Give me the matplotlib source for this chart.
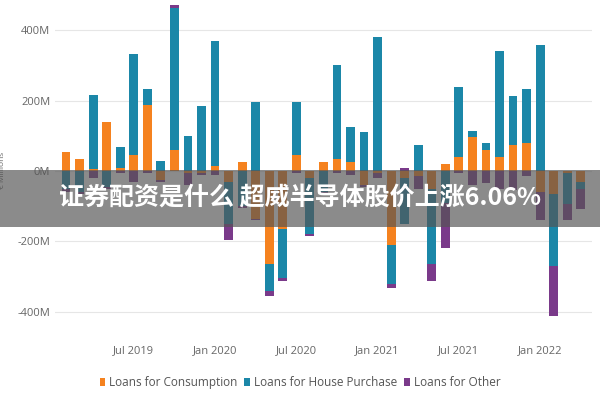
import matplotlib
matplotlib.use("Agg")

import matplotlib.pyplot as plt
import numpy as np
from matplotlib.patches import Rectangle

# monthly data, Feb 2019 .. Apr 2022 (millions)
consumption = [55, 35, 5, 140, 10, 45, 187, -25, 60, -5, -5, 15, -30, 25, -135, -265, -165, 45,
               -20, 25, 35, 25, -40, -5, -210, -20, -15, -50, 20, 40, 98, 60, 40, 75, 80, -60,
               -65, -5, -30]
house = [-50, -60, 210, -45, 57, 288, 45, 28, 402, 100, 185, 355, -120, -100, 195, -77, -138, 151,
         -160, -60, 265, 100, 110, 380, -110, -130, 75, -215, -90, 200, 15, 20, 300, 138, 152, 357,
         -205, -90, -20]
other = [-10, -5, -20, -5, -5, -30, -5, -5, 10, -35, -5, -10, -45, -5, -5, -13, -10, -5,
         -5, -5, -5, -10, -5, -15, -13, 10, -35, -48, -130, -5, -40, -35, -50, -55, -15, -80,
         -143, -45, -57]
tick_idx = [5, 11, 17, 23, 29, 35]
tick_labels = ["Jul 2019", "Jan 2020", "Jul 2020", "Jan 2021", "Jul 2021", "Jan 2022"]

series = [("Loans for Consumption", consumption, "#f5821f"),
          ("Loans for House Purchase", house, "#1b87a8"),
          ("Loans for Other", other, "#7a3a8a")]

plt.rcParams['font.family'] = ['Open Sans', 'DejaVu Sans']
fig = plt.figure(figsize=(6, 4), dpi=100)
ax = fig.add_axes([0.092, 0.15, 0.894, 0.85])

x = np.arange(len(consumption))
pos_base = np.zeros(len(x))
neg_base = np.zeros(len(x))
for name, vals, col in series:
    v = np.array(vals, dtype=float)
    pos = np.where(v > 0, v, 0)
    neg = np.where(v < 0, v, 0)
    ax.bar(x, pos, 0.65, bottom=pos_base, color=col, label=name)
    ax.bar(x, neg, 0.65, bottom=neg_base, color=col)
    pos_base += pos
    neg_base += neg

ax.set_xlim(-0.8, 38.8)
ax.set_ylim(-480, 486)
ax.set_yticks([-400, -200, 0, 200, 400], labels=["-400M", "-200M", "0M", "200M", "400M"])
ax.set_xticks(tick_idx, labels=tick_labels)
ax.tick_params(length=0, labelsize=8, colors="#666666")
ax.grid(axis="y", color="#e6e6e6", linewidth=0.8)
ax.set_axisbelow(True)
for s in ax.spines.values():
    s.set_visible(False)
ax.set_ylabel("€ Millions", fontsize=6, color="#666666", labelpad=8)

fig.legend(loc="lower center", bbox_to_anchor=(0.5, 0.0), ncol=3, frameon=False,
           fontsize=8.5, handlelength=0.5, handletextpad=0.3, columnspacing=0.6,
           labelcolor="#555555", markerscale=0.5)

# overlay banner
fig.patches.append(Rectangle((0, 0.4325), 1, 0.1425, transform=fig.transFigure,
                             facecolor=(0.33, 0.33, 0.33, 0.68), edgecolor="none", zorder=5))
fig.text(0.5, 0.503, "证券配资是什么 超威半导体股价上涨6.06%", ha="center", va="center",
         color="white", fontsize=18, fontweight="bold",
         family=['Noto Sans CJK SC', 'DejaVu Sans'], zorder=6)

fig.savefig("out.png")
